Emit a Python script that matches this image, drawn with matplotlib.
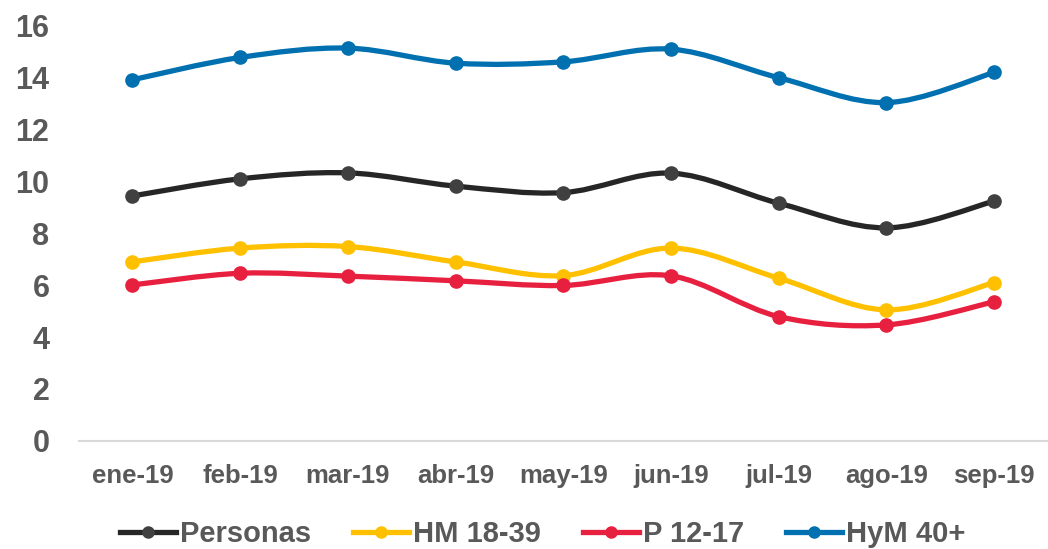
import numpy as np
import matplotlib.pyplot as plt
from matplotlib.path import Path
from matplotlib.patches import PathPatch
from matplotlib.lines import Line2D

meses = ["ene-19", "feb-19", "mar-19", "abr-19", "may-19", "jun-19", "jul-19", "ago-19", "sep-19"]
personas = [9.44, 10.10, 10.33, 9.82, 9.57, 10.32, 9.16, 8.21, 9.24]
hm_18_39 = [6.90, 7.43, 7.49, 6.90, 6.37, 7.43, 6.27, 5.05, 6.10]
p_12_17 = [6.01, 6.46, 6.35, 6.17, 5.99, 6.36, 4.79, 4.47, 5.36]
hym_40 = [13.92, 14.78, 15.14, 14.56, 14.61, 15.10, 14.00, 13.04, 14.20]

series = [
    ("Personas", personas, "#262626", "#404040"),
    ("HM 18-39", hm_18_39, "#FFC000", "#FFC000"),
    ("P 12-17", p_12_17, "#E8203F", "#E8203F"),
    ("HyM 40+", hym_40, "#0070B0", "#0070B0"),
]

fuente = "Liberation Sans"
gris = "#595959"


def smooth_path(x, y):
    # excel-like smoothing: cubic bezier with catmull-rom control points
    pts = np.column_stack([x, y]).astype(float)
    verts = [pts[0]]
    codes = [Path.MOVETO]
    n = len(pts)
    for i in range(n - 1):
        p0 = pts[max(i - 1, 0)]
        p1 = pts[i]
        p2 = pts[i + 1]
        p3 = pts[min(i + 2, n - 1)]
        c1 = p1 + (p2 - p0) / 6.0
        c2 = p2 - (p3 - p1) / 6.0
        verts += [c1, c2, p2]
        codes += [Path.CURVE4] * 3
    return Path(verts, codes)


fig = plt.figure(figsize=(10.48, 5.49), dpi=100)
ax = fig.add_axes([0.075, 0.197, 0.925, 0.756])
x = np.arange(len(meses))

handles = []
for nombre, vals, col, mcol in series:
    ax.add_patch(PathPatch(smooth_path(x, vals), facecolor="none", edgecolor=col,
                           lw=3.8, capstyle="round", zorder=2))
    ax.plot(x, vals, ls="none", marker="o", ms=9.5, color=mcol, zorder=3)
    handles.append(Line2D([], [], color=col, lw=3.8, marker="o", ms=8,
                          markerfacecolor=mcol, markeredgecolor=mcol))

ax.set_xlim(-0.5, len(meses) - 0.5)
ax.set_ylim(0, 16)
ax.set_yticks(range(0, 17, 2))
ax.set_xticks(x)
ax.set_xticklabels(meses)
for s in ["top", "right", "left"]:
    ax.spines[s].set_visible(False)
ax.spines["bottom"].set_color("#D9D9D9")
ax.spines["bottom"].set_linewidth(1.5)
ax.tick_params(axis="both", length=0, colors=gris)
ax.tick_params(axis="y", pad=21)
ax.tick_params(axis="x", pad=17)
for lab in ax.get_yticklabels():
    lab.set_fontsize(22)
    lab.set_fontweight("bold")
    lab.set_family(fuente)
for lab in ax.get_xticklabels():
    lab.set_fontsize(18.5)
    lab.set_fontweight("bold")
    lab.set_family(fuente)

leg = fig.legend(handles, [s[0] for s in series], loc="center",
                 bbox_to_anchor=(0.518, 0.027), ncol=4, frameon=False,
                 handlelength=1.9, handletextpad=0.15, columnspacing=1.45,
                 prop={"family": fuente, "weight": "bold", "size": 21})
for t in leg.get_texts():
    t.set_color(gris)

fig.savefig("out.png", dpi=100)
